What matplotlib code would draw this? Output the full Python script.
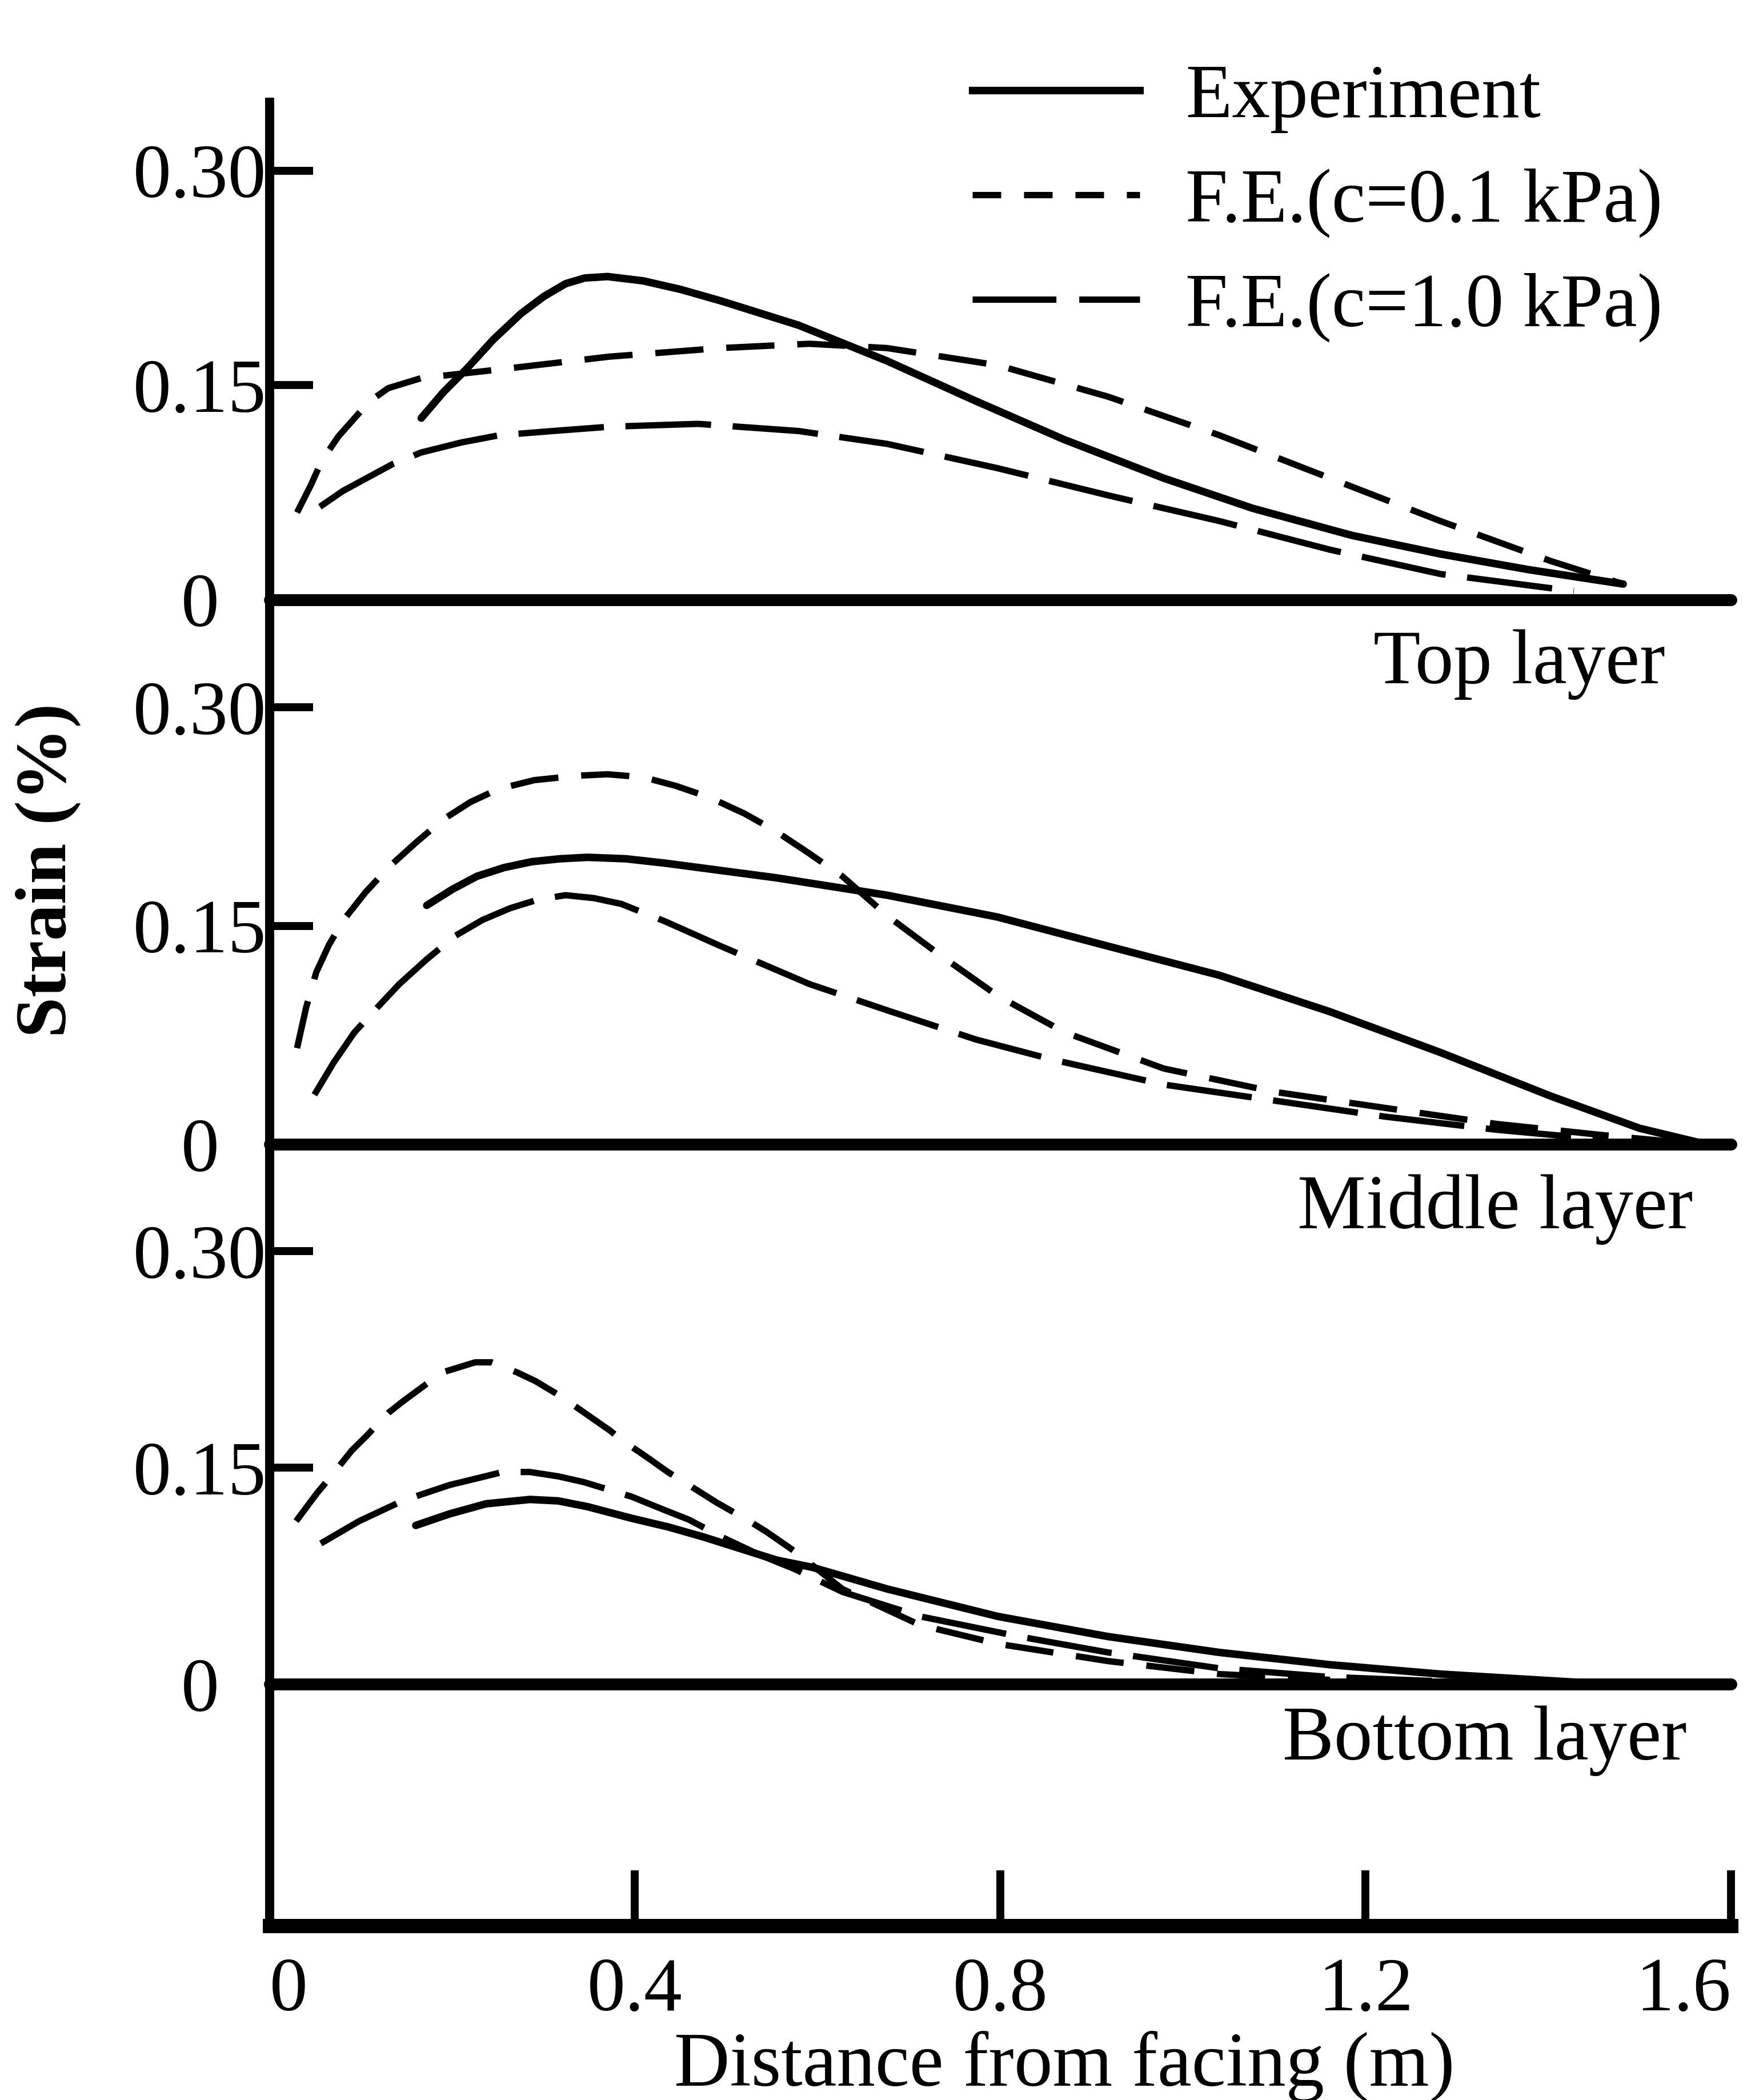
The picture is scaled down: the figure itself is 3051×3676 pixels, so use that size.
import matplotlib.pyplot as plt
from matplotlib.lines import Line2D

plt.rcParams['font.family'] = ['Liberation Serif', 'DejaVu Serif']

# ---- data (x in m, strain in %) ----
x_ticks = [0, 0.4, 0.8, 1.2, 1.6]
x_tick_labels = ['0', '0.4', '0.8', '1.2', '1.6']
y_ticks = [0, 0.15, 0.30]
y_tick_labels = ['0', '0.15', '0.30']
layer_names = ['Top layer', 'Middle layer', 'Bottom layer']
series_names = ['Experiment', 'F.E.(c=0.1 kPa)', 'F.E.(c=1.0 kPa)']

# top layer
top_exp_x = [0.166, 0.19, 0.215, 0.245, 0.275, 0.30, 0.324, 0.345, 0.37, 0.409, 0.45, 0.494,
             0.579, 0.676, 0.773, 0.870, 0.979, 1.076, 1.185, 1.282, 1.379, 1.482]
top_exp_y = [0.127, 0.145, 0.161, 0.182, 0.200, 0.212, 0.221, 0.225, 0.226, 0.223, 0.217, 0.209,
             0.192, 0.167, 0.139, 0.112, 0.085, 0.064, 0.045, 0.032, 0.021, 0.011]
top_fe01_x = [0.030, 0.045, 0.057, 0.075, 0.093, 0.110, 0.130, 0.166, 0.251, 0.372, 0.494, 0.591,
              0.676, 0.797, 0.918, 1.040, 1.161, 1.282, 1.403, 1.482]
top_fe01_y = [0.061, 0.080, 0.097, 0.114, 0.127, 0.139, 0.148, 0.155, 0.161, 0.170, 0.176, 0.179,
              0.176, 0.164, 0.142, 0.115, 0.085, 0.055, 0.027, 0.011]
top_fe10_x = [0.055, 0.080, 0.106, 0.135, 0.166, 0.21, 0.251, 0.31, 0.372, 0.469, 0.579, 0.676,
              0.797, 0.918, 1.040, 1.161, 1.282, 1.428]
top_fe10_y = [0.065, 0.076, 0.085, 0.095, 0.103, 0.110, 0.115, 0.118, 0.121, 0.123, 0.118, 0.109,
              0.092, 0.073, 0.055, 0.035, 0.018, 0.006]

# middle layer
mid_exp_x = [0.172, 0.20, 0.227, 0.257, 0.287, 0.318, 0.348, 0.39, 0.433, 0.554, 0.676, 0.797,
             0.918, 1.040, 1.161, 1.282, 1.403, 1.500, 1.573]
mid_exp_y = [0.164, 0.175, 0.184, 0.190, 0.194, 0.196, 0.197, 0.196, 0.193, 0.183, 0.171, 0.156,
             0.136, 0.116, 0.091, 0.063, 0.033, 0.011, 0.0]
mid_fe01_x = [0.030, 0.040, 0.051, 0.065, 0.081, 0.105, 0.130, 0.160, 0.190, 0.220, 0.251, 0.290,
              0.336, 0.370, 0.409, 0.445, 0.482, 0.520, 0.554, 0.590, 0.627, 0.676, 0.736, 0.797,
              0.870, 0.979, 1.100, 1.221, 1.343, 1.464, 1.549]
mid_fe01_y = [0.066, 0.094, 0.118, 0.137, 0.154, 0.173, 0.190, 0.207, 0.223, 0.235, 0.244, 0.250,
              0.253, 0.254, 0.252, 0.246, 0.238, 0.227, 0.215, 0.200, 0.184, 0.157, 0.129, 0.102,
              0.077, 0.052, 0.036, 0.025, 0.014, 0.006, 0.001]
mid_fe10_x = [0.049, 0.070, 0.093, 0.118, 0.142, 0.172, 0.203, 0.233, 0.263, 0.294, 0.324, 0.355,
              0.385, 0.433, 0.494, 0.591, 0.676, 0.773, 0.858, 0.979, 1.100, 1.221, 1.343, 1.464]
mid_fe10_y = [0.034, 0.056, 0.077, 0.094, 0.110, 0.127, 0.143, 0.154, 0.162, 0.168, 0.171, 0.169,
              0.165, 0.153, 0.136, 0.110, 0.092, 0.072, 0.058, 0.041, 0.030, 0.019, 0.010, 0.003]

# bottom layer
bot_exp_x = [0.160, 0.197, 0.237, 0.285, 0.316, 0.348, 0.396, 0.436, 0.475, 0.515, 0.555, 0.594,
             0.676, 0.797, 0.918, 1.040, 1.161, 1.282, 1.440]
bot_exp_y = [0.110, 0.118, 0.125, 0.128, 0.127, 0.123, 0.115, 0.109, 0.102, 0.094, 0.086, 0.081,
             0.066, 0.047, 0.033, 0.022, 0.0135, 0.007, 0.001]
bot_fe01_x = [0.029, 0.052, 0.066, 0.090, 0.106, 0.130, 0.146, 0.176, 0.189, 0.225, 0.243, 0.271,
              0.291, 0.320, 0.338, 0.372, 0.386, 0.416, 0.436, 0.469, 0.489, 0.525, 0.543, 0.575,
              0.627, 0.712, 0.797, 0.918, 1.040, 1.161]
bot_fe01_y = [0.113, 0.1325, 0.143, 0.162, 0.172, 0.188, 0.196, 0.210, 0.216, 0.223, 0.223, 0.216,
              0.210, 0.199, 0.191, 0.176, 0.169, 0.156, 0.147, 0.134, 0.126, 0.113, 0.106, 0.092,
              0.066, 0.041, 0.028, 0.016, 0.007, 0.003]
bot_fe10_x = [0.056, 0.098, 0.142, 0.164, 0.197, 0.236, 0.255, 0.285, 0.316, 0.344, 0.370, 0.396,
              0.431, 0.459, 0.495, 0.535, 0.574, 0.627, 0.712, 0.821, 0.918, 1.040, 1.161, 1.282]
bot_fe10_y = [0.0975, 0.113, 0.126, 0.131, 0.138, 0.144, 0.147, 0.147, 0.144, 0.140, 0.135, 0.130,
              0.121, 0.114, 0.102, 0.090, 0.080, 0.064, 0.047, 0.033, 0.022, 0.011, 0.005, 0.002]

layers = [
    [(top_exp_x, top_exp_y), (top_fe01_x, top_fe01_y), (top_fe10_x, top_fe10_y)],
    [(mid_exp_x, mid_exp_y), (mid_fe01_x, mid_fe01_y), (mid_fe10_x, mid_fe10_y)],
    [(bot_exp_x, bot_exp_y), (bot_fe01_x, bot_fe01_y), (bot_fe10_x, bot_fe10_y)],
]

# line styles: solid, short dash, long dash
styles = [
    dict(color='black', lw=9.5, linestyle='-', solid_capstyle='round', solid_joinstyle='round'),
    dict(color='black', lw=8, linestyle=(0, (7.6, 3.6))),
    dict(color='black', lw=8, linestyle=(0, (13.5, 3.4))),
]

# panel placement (figure fractions) and label placement (axes fractions)
panel_rects = [
    [0.1547, 0.7144, 0.8384, 0.2043],
    [0.1547, 0.4551, 0.8384, 0.2081],
    [0.1547, 0.1980, 0.8384, 0.2062],
]
label_pos = [(0.955, -0.194), (0.974, -0.192), (0.970, -0.1735)]

fig = plt.figure(figsize=(30.51, 36.76), dpi=100)

# main frame: left spine and distance axis
ax = fig.add_axes([0.1547, 0.0830, 0.8384, 0.8683])
ax.set_xlim(0, 1.6)
ax.set_ylim(0, 1)
for side in ['top', 'right']:
    ax.spines[side].set_visible(False)
ax.spines['left'].set_linewidth(11.5)
ax.spines['bottom'].set_linewidth(18)
ax.spines['left'].set_capstyle('projecting')
ax.spines['bottom'].set_capstyle('projecting')
ax.set_yticks([])
ax.set_xticks(x_ticks)
ax.set_xticklabels(x_tick_labels)
ax.tick_params(axis='x', direction='in', length=70, width=10, pad=40, labelsize=96)
tl = ax.get_xticklabels()
tl[0].set_horizontalalignment('left')
tl[-1].set_horizontalalignment('right')
ax.set_xlabel('Distance from facing (m)', fontsize=97)
ax.xaxis.set_label_coords(0.5440, -0.0878)
ax.xaxis.label.set_verticalalignment('baseline')

for i, rect in enumerate(panel_rects):
    p = fig.add_axes(rect)
    p.set_xlim(0, 1.6)
    p.set_ylim(0, 0.30)
    p.patch.set_visible(False)
    for s in p.spines.values():
        s.set_visible(False)
    p.set_xticks([])
    p.set_yticks(y_ticks)
    p.set_yticklabels(y_tick_labels)
    p.tick_params(axis='y', direction='in', length=55, width=10, pad=88, labelsize=96)
    for lab in p.get_yticklabels():
        lab.set_horizontalalignment('center')
    p.axhline(0, color='black', lw=15, solid_capstyle='round', clip_on=False)
    for (xs, ys), st in zip(layers[i], styles):
        p.plot(xs, ys, clip_on=False, **st)
    lx, ly = label_pos[i]
    p.text(lx, ly, layer_names[i], transform=p.transAxes, ha='right', va='baseline', fontsize=97)

fig.text(0.0277, 0.5855, 'Strain (%)', rotation=90, ha='center', va='center',
         fontsize=92, fontweight='bold')

handles = [
    Line2D([], [], color='black', lw=9.5),
    Line2D([], [], color='black', lw=8, linestyle=(0, (4.5, 3.6))),
    Line2D([], [], color='black', lw=8, linestyle=(0, (13.2, 3.6))),
]
fig.legend(handles, series_names, loc='upper left', bbox_to_anchor=(0.5579, 0.9696),
           frameon=False, fontsize=96, handlelength=2.2, handletextpad=0.6,
           labelspacing=0.46, borderpad=0, borderaxespad=0)

fig.savefig('out.png', dpi=100)
